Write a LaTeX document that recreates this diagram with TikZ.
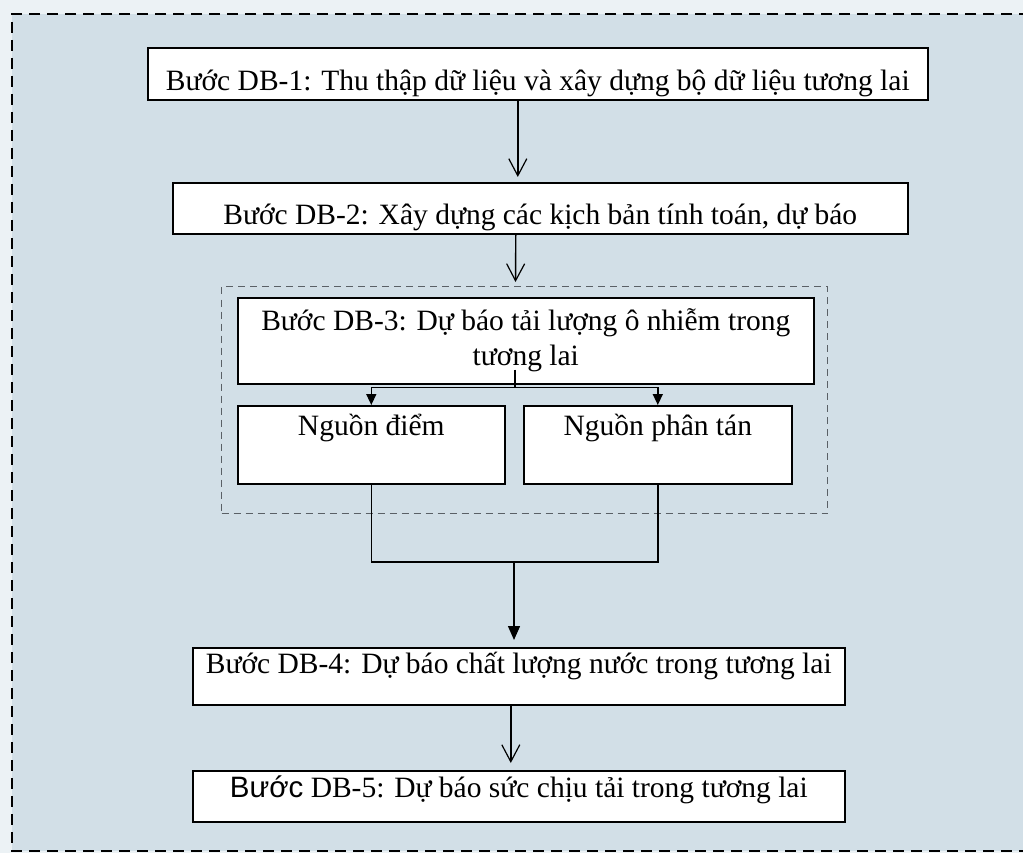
\documentclass[tikz,border=0pt]{standalone}
\usepackage{fontspec}
\setmainfont{Liberation Serif}
\newfontfamily\sansword{Liberation Sans}
\usetikzlibrary{arrows.meta}
\definecolor{paper}{RGB}{210,223,231}
\definecolor{margin}{RGB}{236,242,245}
\definecolor{groupline}{RGB}{90,96,102}
\tikzset{
  stepbox/.style={draw=black, line width=1.6pt, fill=white, anchor=north west,
    inner xsep=0pt, inner ysep=0pt, align=center,
    font=\fontsize{29.5}{35}\selectfont},
  grouping/.style={draw=groupline, line width=1pt, dash pattern=on 7pt off 5pt,
    anchor=north west, inner sep=0pt},
  flow/.style={line width=1.4pt},
  openhead/.style={flow, -{Straight Barb[length=17pt,width=18pt,line width=1.2pt]}},
  solidhead/.style={flow, -{Triangle[length=11pt,width=10pt]}},
  bighead/.style={flow, -{Triangle[length=14pt,width=12pt]}},
}

\begin{document}
\begin{tikzpicture}[x=1pt,y=-1pt]
  \clip (0,0) rectangle (1023,853);
  % sheet and its dashed frame
  \fill[margin] (0,0) rectangle (1023,853);
  \fill[paper] (12,14) rectangle (1030,851);
  \draw[line width=2pt, dash pattern=on 11pt off 7pt]
    (1030,14) -- (12,14) -- (12,851) -- (1030,851);

  % steps
  \node[stepbox, minimum width=780pt, text height=43pt, text depth=9pt] (db1) at (147,47)
    {Bước DB-1: Thu thập dữ liệu và xây dựng bộ dữ liệu tương lai};
  \node[stepbox, minimum width=735pt, text height=42pt, text depth=9pt] (db2) at (172,182)
    {Bước DB-2: Xây dựng các kịch bản tính toán, dự báo};
  \node[grouping, minimum width=606pt, minimum height=227pt] (grp) at (221,286) {};
  \node[stepbox, minimum width=576pt, text height=68pt, text depth=18pt] (db3) at (237,297)
    {Bước DB-3: Dự báo tải lượng ô nhiễm trong\\tương lai};
  \node[stepbox, minimum width=267pt, text height=30pt, text depth=48pt] (src1) at (237,405)
    {Nguồn điểm};
  \node[stepbox, minimum width=268pt, text height=30pt, text depth=48pt] (src2) at (523,405)
    {Nguồn phân tán};
  \node[stepbox, minimum width=652pt, text height=26pt, text depth=31pt] (db4) at (192,647)
    {Bước DB-4: Dự báo chất lượng nước trong tương lai};
  \node[stepbox, minimum width=652pt, text height=27pt, text depth=24pt] (db5) at (192,770)
    {{\sansword Bước} DB-5: Dự báo sức chịu tải trong tương lai};

  % connectors
  \draw[openhead, shorten >=5pt] ([xshift=-20pt]db1.south) -- ([xshift=-22.5pt]db2.north);
  \draw[openhead, shorten >=4pt] ([xshift=-24.5pt]db2.south) -- ([xshift=-9pt]grp.north);

  \coordinate (stem) at ([xshift=-11pt,yshift=15pt]db3.south);
  \coordinate (split) at ([xshift=-11pt,yshift=-3pt]db3.south);
  \draw[flow] (stem) -- (split);
  \draw[solidhead] (split) -| (src1.north);
  \draw[solidhead] (split) -| (src2.north);

  \coordinate (join) at (514,562);
  \draw[flow] (src1.south) |- (join) -| (src2.south);
  \draw[bighead, shorten >=7pt] (join) -- (join |- db4.north);

  \draw[openhead, shorten >=7pt] ([xshift=-8pt]db4.south) -- ([xshift=-8pt]db5.north);
\end{tikzpicture}
\end{document}
